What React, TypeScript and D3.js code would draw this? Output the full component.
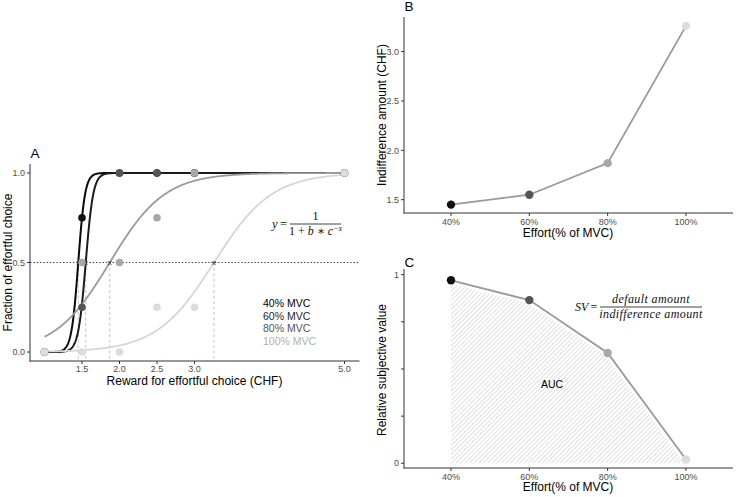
import React from "react";
import * as d3 from "d3";

// ---------- data ----------
const rewards = [1, 1.5, 2, 2.5, 3, 5];
const effortLevels = ["40%", "60%", "80%", "100%"];
const legendLabels = ["40% MVC", "60% MVC", "80% MVC", "100% MVC"];
const choice40 = [0, 0.75, 1, 1, 1, 1];
const choice60 = [0, 0.25, 1, 1, 1, 1];
const choice80 = [0, 0.5, 0.5, 0.75, 1, 1];
const choice100 = [0, 0, 0, 0.25, 0.25, 1];
const indifferenceAmount = [1.45, 1.55, 1.87, 3.26];
const fitSlope = [22, 20, 2.73, 2.6];
const subjectiveValue = [0.97, 0.865, 0.585, 0.02];
const xTicksA = [1.5, 2.0, 2.5, 3.0, 5.0];
const yTicksA = [0, 0.5, 1];
const yTicksB = [1.5, 2.0, 2.5, 3.0];
const yTicksC = [0, 0.25, 0.5, 0.75, 1];
const yTickLabelsC = ["0", "", "", "", "1"];

// ---------- styles ----------
const pointColors = ["#111111", "#555555", "#a8a8a8", "#dcdcdc"];
const curveColors = ["#0a0a0a", "#1c1c1c", "#9a9a9a", "#d6d6d6"];
const legendColors = ["#000000", "#1e1e1e", "#555555", "#b0b0b0"];
const FONT = "'Liberation Sans', Arial, Helvetica, sans-serif";
const SERIF = "'Liberation Serif', 'DejaVu Serif', serif";
const AXIS = "#333333";
const TICKTXT = "#4d4d4d";
const TICKFS = 9;
const LETTERFS = 13.5;

export default function App() {
  const series = [choice40, choice60, choice80, choice100];

  // Panel A scales
  const xA = d3.scaleLinear().domain([0.8, 5.2]).range([29.5, 359.5]);
  const yA = d3.scaleLinear().domain([-0.05, 1.05]).range([361, 164]);
  // Panel B
  const xB = d3.scalePoint<string>().domain(effortLevels).range([451, 686]);
  const yB = d3.scaleLinear().domain([1.36, 3.34]).range([213.5, 18]);
  // Panel C
  const yC = d3.scaleLinear().domain([-0.025, 1.03]).range([468, 269]);

  const xs = d3.range(1, 5.0001, 0.005);
  const curves = indifferenceAmount.map((x0, i) => {
    const k = fitSlope[i];
    const gen = d3
      .line<number>()
      .x((x) => xA(x))
      .y((x) => yA(1 / (1 + Math.exp(-k * (x - x0)))));
    return gen(xs) || "";
  });

  const lineB = d3
    .line<number>()
    .x((_, i) => xB(effortLevels[i]) as number)
    .y((v) => yB(v));
  const lineC = d3
    .line<number>()
    .x((_, i) => xB(effortLevels[i]) as number)
    .y((v) => yC(v));
  const areaC = d3
    .area<number>()
    .x((_, i) => xB(effortLevels[i]) as number)
    .y0(yC(0))
    .y1((v) => yC(v));

  return (
    <div style={{ position: "absolute", left: 0, top: 0 }}>
      <svg width={737} height={497} style={{ display: "block", background: "#fff" }}>
        <defs>
          <pattern id="hatch" width="3.2" height="3.2" patternUnits="userSpaceOnUse" patternTransform="rotate(45)">
            <line x1="0" y1="0" x2="0" y2="3.2" stroke="#c2c2c2" strokeWidth="1" />
          </pattern>
        </defs>

        {/* ================= Panel A ================= */}
        <g fontFamily={FONT}>
          <text x={30.5} y={158} fontSize={LETTERFS} fill="#000">A</text>
          {indifferenceAmount.map((x0, i) => (
            <line key={"dv" + i} x1={xA(x0)} x2={xA(x0)} y1={yA(0.5)} y2={361}
              stroke="#bdbdbd" strokeWidth={0.9} strokeDasharray="3,2.5" />
          ))}
          {curves.map((d, i) => (
            <path key={"c" + i} d={d} fill="none" stroke={curveColors[i]}
              strokeWidth={i < 2 ? 2 : 1.8} />
          ))}
          <line x1={30} x2={359} y1={yA(0.5)} y2={yA(0.5)} stroke="#333" strokeWidth={0.9} strokeDasharray="1.5,1.8" />
          {indifferenceAmount.map((x0, i) => (
            <text key={"xm" + i} x={xA(x0)} y={yA(0.5) + 2.5} fontSize={8} textAnchor="middle" fill="#222">x</text>
          ))}
          {series.map((s, si) =>
            s.map((v, j) => (
              <circle key={`p${si}-${j}`} cx={xA(rewards[j])} cy={yA(v)} r={3.8} fill={pointColors[si]} />
            ))
          )}
          {/* equation */}
          <g fontFamily={SERIF} fontStyle="italic" fill="#111">
            <text x={272} y={228} fontSize={12.5}>y</text>
            <text x={280} y={228} fontSize={12.5} fontStyle="normal">=</text>
            <text x={315.5} y={220} fontSize={12} fontStyle="normal" textAnchor="middle">1</text>
            <line x1={290} x2={341} y1={224} y2={224} stroke="#111" strokeWidth={0.8} />
            <text x={315.5} y={235} fontSize={12} textAnchor="middle">
              <tspan fontStyle="normal">1 + </tspan>b<tspan fontStyle="normal"> ∗ </tspan>c
              <tspan fontSize={8} dy={-4}>−x</tspan>
            </text>
          </g>
          {legendLabels.map((l, i) => (
            <text key={"lg" + i} x={263} y={307 + i * 12.7} fontSize={10.5} fill={legendColors[i]}>{l}</text>
          ))}
          {/* axes */}
          <line x1={30} x2={30} y1={164} y2={361.5} stroke={AXIS} strokeWidth={1} />
          <line x1={29.5} x2={359.5} y1={361} y2={361} stroke={AXIS} strokeWidth={1} />
          {xTicksA.map((t) => (
            <g key={"xta" + t}>
              <line x1={xA(t)} x2={xA(t)} y1={361} y2={364} stroke={AXIS} />
              <text x={xA(t)} y={372} fontSize={TICKFS} textAnchor="middle" fill={TICKTXT}>{t.toFixed(1)}</text>
            </g>
          ))}
          {yTicksA.map((t) => (
            <g key={"yta" + t}>
              <line x1={27} x2={30} y1={yA(t)} y2={yA(t)} stroke={AXIS} />
              <text x={25} y={yA(t) + 3.2} fontSize={TICKFS} textAnchor="end" fill={TICKTXT}>{t.toFixed(1)}</text>
            </g>
          ))}
          <text x={194.5} y={385} fontSize={12} textAnchor="middle" fill="#000">Reward for effortful choice (CHF)</text>
          <text transform={`translate(12,${262.5}) rotate(-90)`} fontSize={12} textAnchor="middle" fill="#000">Fraction of effortful choice</text>
        </g>

        {/* ================= Panel B ================= */}
        <g fontFamily={FONT}>
          <text x={404.5} y={11} fontSize={LETTERFS} fill="#000">B</text>
          <path d={lineB(indifferenceAmount) || ""} fill="none" stroke="#999" strokeWidth={1.8} />
          {indifferenceAmount.map((v, i) => (
            <circle key={"pb" + i} cx={xB(effortLevels[i])} cy={yB(v)} r={4.2} fill={pointColors[i]} />
          ))}
          <line x1={404} x2={404} y1={17} y2={213.5} stroke={AXIS} strokeWidth={1} />
          <line x1={403.5} x2={733} y1={213} y2={213} stroke={AXIS} strokeWidth={1} />
          {effortLevels.map((e) => (
            <g key={"xtb" + e}>
              <line x1={xB(e)} x2={xB(e)} y1={213} y2={216} stroke={AXIS} />
              <text x={xB(e)} y={224.5} fontSize={TICKFS} textAnchor="middle" fill={TICKTXT}>{e}</text>
            </g>
          ))}
          {yTicksB.map((t) => (
            <g key={"ytb" + t}>
              <line x1={401} x2={404} y1={yB(t)} y2={yB(t)} stroke={AXIS} />
              <text x={399} y={yB(t) + 3.2} fontSize={TICKFS} textAnchor="end" fill={TICKTXT}>{t.toFixed(1)}</text>
            </g>
          ))}
          <text x={568} y={237} fontSize={12} textAnchor="middle" fill="#000">Effort(% of MVC)</text>
          <text transform={`translate(386,${115}) rotate(-90)`} fontSize={12} textAnchor="middle" fill="#000">Indifference amount (CHF)</text>
        </g>

        {/* ================= Panel C ================= */}
        <g fontFamily={FONT}>
          <text x={404.5} y={266.5} fontSize={LETTERFS} fill="#000">C</text>
          <path d={areaC(subjectiveValue) || ""} fill="url(#hatch)" stroke="none" />
          <path d={lineC(subjectiveValue) || ""} fill="none" stroke="#fff" strokeWidth={7} />
          <path d={lineC(subjectiveValue) || ""} fill="none" stroke="#999" strokeWidth={1.8} />
          {subjectiveValue.map((v, i) => (
            <circle key={"pc" + i} cx={xB(effortLevels[i])} cy={yC(v)} r={4.2} fill={pointColors[i]} />
          ))}
          <text x={552} y={388} fontSize={10.5} textAnchor="middle" fill="#000">AUC</text>
          <g fontFamily={SERIF} fontStyle="italic" fill="#111">
            <text x={575} y={311} fontSize={12}>SV</text>
            <text x={590.5} y={311} fontSize={12} fontStyle="normal">=</text>
            <text x={651} y={303} fontSize={12} letterSpacing={0.4} textAnchor="middle">default amount</text>
            <line x1={600} x2={702} y1={307} y2={307} stroke="#111" strokeWidth={0.8} />
            <text x={651} y={318} fontSize={12} letterSpacing={0.4} textAnchor="middle">indifference amount</text>
          </g>
          <line x1={404} x2={404} y1={269} y2={468.5} stroke={AXIS} strokeWidth={1} />
          <line x1={403.5} x2={733} y1={468} y2={468} stroke={AXIS} strokeWidth={1} />
          {effortLevels.map((e) => (
            <g key={"xtc" + e}>
              <line x1={xB(e)} x2={xB(e)} y1={468} y2={471} stroke={AXIS} />
              <text x={xB(e)} y={479.5} fontSize={TICKFS} textAnchor="middle" fill={TICKTXT}>{e}</text>
            </g>
          ))}
          {yTicksC.map((t, i) => (
            <g key={"ytc" + t}>
              <line x1={401} x2={404} y1={yC(t)} y2={yC(t)} stroke={AXIS} />
              <text x={399} y={yC(t) + 3.2} fontSize={TICKFS} textAnchor="end" fill={TICKTXT}>{yTickLabelsC[i]}</text>
            </g>
          ))}
          <text x={568} y={491} fontSize={12} textAnchor="middle" fill="#000">Effort(% of MVC)</text>
          <text transform={`translate(386,${370}) rotate(-90)`} fontSize={12} textAnchor="middle" fill="#000">Relative subjective value</text>
        </g>
      </svg>
    </div>
  );
}
